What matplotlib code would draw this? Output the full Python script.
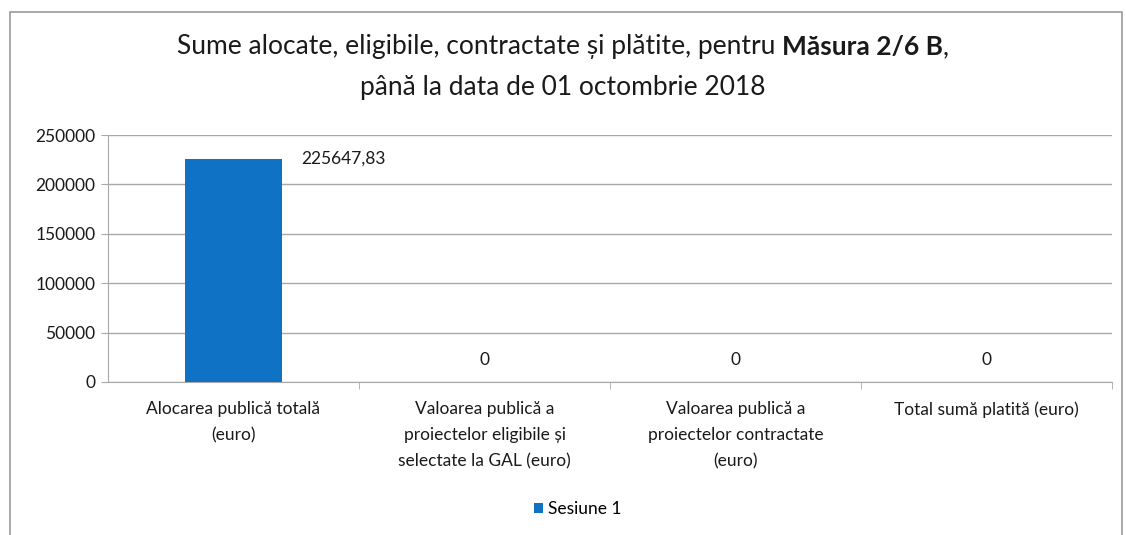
import matplotlib
matplotlib.use("Agg")
import matplotlib.pyplot as plt
from matplotlib.patches import Rectangle

categories = ["Alocarea publică totală\n(euro)",
              "Valoarea publică a\nproiectelor eligibile și\nselectate la GAL (euro)",
              "Valoarea publică a\nproiectelor contractate\n(euro)",
              "Total sumă platită (euro)"]
values = [225647.83, 0, 0, 0]
value_labels = ["225647,83", "0", "0", "0"]
series_name = "Sesiune 1"
yticks = [0, 50000, 100000, 150000, 200000, 250000]
title_parts = [("Sume alocate, eligibile, contractate și plătite, pentru ", "normal"),
               ("Măsura 2/6 B", "bold"), (",", "normal")]
title_line2 = "până la data de 01 octombrie 2018"

plt.rcParams['font.family'] = ['Lato', 'DejaVu Sans']
W, H = 1126, 535
FS = 12.5
fig = plt.figure(figsize=(W/100, H/100), dpi=100)
ax = fig.add_axes([108/W, 1-382/H, (1112-108)/W, (382-135)/H])

x = list(range(len(categories)))
ax.bar(x, values, width=0.39, color="#0f72c4", label=series_name, zorder=3)
ax.set_xlim(-0.5, len(categories)-0.5)
ax.set_ylim(0, 250000)
ax.set_yticks(yticks)
ax.set_yticklabels([str(t) for t in yticks], fontsize=FS, color="#1a1a1a")
ax.yaxis.grid(True, color="#a8a8a8", linewidth=1.0, zorder=0)
ax.set_xticks(x)
ax.set_xticklabels(categories, fontsize=FS, color="#1a1a1a", linespacing=1.75)
ax.set_xticks([i+0.5 for i in x], minor=True)
ax.tick_params(axis='x', which='major', length=0, pad=14)
ax.tick_params(axis='x', which='minor', length=5, color="#a8a8a8")
ax.tick_params(axis='y', length=5, color="#a8a8a8", pad=4)
for s in ['top', 'right']:
    ax.spines[s].set_visible(False)
ax.spines['left'].set_color("#a8a8a8")
ax.spines['bottom'].set_color("#a8a8a8")

for i, (v, lab) in enumerate(zip(values, value_labels)):
    if v > 0:
        ax.annotate(lab, (i, v), xytext=(i + 0.44, v), textcoords='data',
                    ha='center', va='center', fontsize=FS, color="#1a1a1a")
    else:
        ax.annotate(lab, (i, v), xytext=(0, 16), textcoords='offset points',
                    ha='center', va='center', fontsize=FS, color="#1a1a1a")

# title line 1 with bold part
TFS = 19
fig.canvas.draw()
r = fig.canvas.get_renderer()
texts = []
for s, w in title_parts:
    texts.append(fig.text(0, 1-47/H, s, ha='left', va='center', fontsize=TFS,
                          fontweight=w, color="#1a1a1a"))
widths = [t.get_window_extent(r).width for t in texts]
total = sum(widths)
xpos = (W - total) / 2
for t, wd in zip(texts, widths):
    t.set_x(xpos / W)
    xpos += wd
fig.text(0.5, 1-88/H, title_line2, ha='center', va='center', fontsize=TFS, color="#1a1a1a")

fig.legend(loc='center', bbox_to_anchor=(578/W, 1-509/H), frameon=False,
           fontsize=FS, handlelength=0.5, handleheight=0.5, handletextpad=0.3)

fig.patches.append(Rectangle((10/W, -0.1), (1122-10)/W, 1.1 - 12/H,
                             transform=fig.transFigure, fill=False,
                             edgecolor="#9a9a9a", linewidth=1.2))
fig.savefig("out.png", dpi=100)
